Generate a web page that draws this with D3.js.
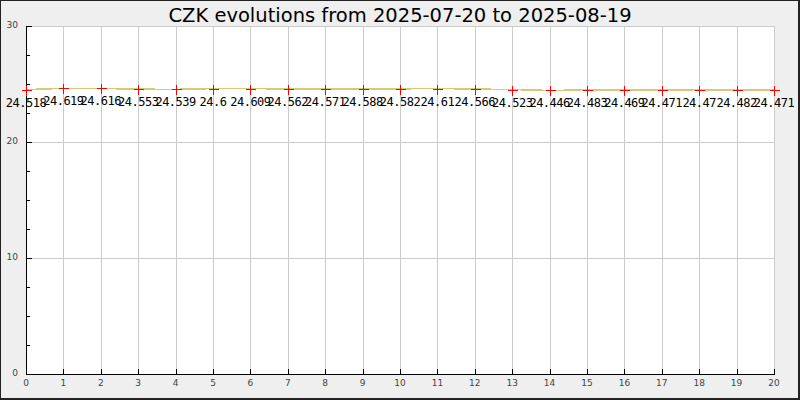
<!DOCTYPE html>
<html><head><meta charset="utf-8">
<script src="https://cdn.jsdelivr.net/npm/d3@7"></script>
<style>html,body{margin:0;padding:0;background:#fff}svg{display:block}</style>
</head><body>
<svg id="c" width="800" height="400"></svg>
<script>
const title = "CZK evolutions from 2025-07-20 to 2025-08-19";
const xIndex = [0,1,2,3,4,5,6,7,8,9,10,11,12,13,14,15,16,17,18,19,20];
const rates = [24.518,24.619,24.616,24.553,24.539,24.6,24.609,24.562,24.571,24.588,24.582,24.61,24.566,24.523,24.446,24.483,24.469,24.471,24.47,24.482,24.471];
const rateLabels = ["24.518","24.619","24.616","24.553","24.539","24.6","24.609","24.562","24.571","24.588","24.582","24.61","24.566","24.523","24.446","24.483","24.469","24.471","24.47","24.482","24.471"];
const yMajorTicks = [0,10,20,30];
const yMinorTicks = [2.5,5,7.5,12.5,15,17.5,22.5,25,27.5];
const xTicks = [0,1,2,3,4,5,6,7,8,9,10,11,12,13,14,15,16,17,18,19,20];

const svg = d3.select("#c");
const W = 800, H = 400;
const L = 26, R = 774, T = 26, B = 374;

svg.append("rect").attr("x",0).attr("y",0).attr("width",W).attr("height",H).attr("fill","#efefef");
svg.append("rect").attr("x",L).attr("y",T).attr("width",R-L).attr("height",B-T).attr("fill","#fff");

const x = d3.scaleLinear().domain([0,20]).range([L,R]);
const y = d3.scaleLinear().domain([0,30]).range([B,T]);

const g = svg.append("g").attr("shape-rendering","crispEdges");
g.selectAll(".vg").data(xTicks.filter(d=>d>0&&d<20)).enter().append("line")
  .attr("x1",d=>Math.round(x(d))+0.5).attr("x2",d=>Math.round(x(d))+0.5)
  .attr("y1",T).attr("y2",B).attr("stroke","#cccccc");
g.selectAll(".hg").data(yMajorTicks.filter(d=>d>0&&d<30)).enter().append("line")
  .attr("x1",L).attr("x2",R).attr("y1",d=>Math.round(y(d))+0.5).attr("y2",d=>Math.round(y(d))+0.5)
  .attr("stroke","#cccccc");
g.append("line").attr("x1",L).attr("x2",R+0.5).attr("y1",T+0.5).attr("y2",T+0.5).attr("stroke","#cccccc");
g.append("line").attr("x1",R+0.5).attr("x2",R+0.5).attr("y1",T).attr("y2",B).attr("stroke","#cccccc");

const line = d3.line().x((d,i)=>x(xIndex[i])).y(d=>y(d));
svg.append("path").datum(rates).attr("d",line).attr("fill","none")
  .attr("stroke","#d8c878").attr("stroke-width",1.5).attr("shape-rendering","crispEdges");

g.append("line").attr("x1",L+0.5).attr("x2",L+0.5).attr("y1",T).attr("y2",B+1).attr("stroke","#000");
g.append("line").attr("x1",L).attr("x2",R+1).attr("y1",B+0.5).attr("y2",B+0.5).attr("stroke","#000");
g.append("line").attr("x1",L).attr("x2",L+6).attr("y1",T+0.5).attr("y2",T+0.5).attr("stroke","#000");
g.selectAll(".ymt").data(yMajorTicks).enter().append("line")
  .attr("x1",L).attr("x2",L+6).attr("y1",d=>Math.round(y(d))+0.5).attr("y2",d=>Math.round(y(d))+0.5).attr("stroke","#000");
g.selectAll(".ymn").data(yMinorTicks).enter().append("line")
  .attr("x1",L).attr("x2",L+4).attr("y1",d=>Math.round(y(d))+0.5).attr("y2",d=>Math.round(y(d))+0.5).attr("stroke","#000");
g.selectAll(".xt").data(xTicks).enter().append("line")
  .attr("x1",d=>Math.round(x(d))+0.5).attr("x2",d=>Math.round(x(d))+0.5)
  .attr("y1",B).attr("y2",B-5).attr("stroke","#000");

svg.selectAll(".yl").data(yMajorTicks).enter().append("text")
  .attr("x",18).attr("y",d=>y(d)+2).attr("text-anchor","end").attr("font-family","DejaVu Sans")
  .attr("font-size",9).attr("fill","#444").text(d=>d);
svg.selectAll(".xl").data(xTicks).enter().append("text")
  .attr("x",d=>x(d)).attr("y",B+12).attr("text-anchor","middle").attr("font-family","DejaVu Sans")
  .attr("font-size",9).attr("fill","#444").text(d=>d);

const mk = svg.append("g").attr("shape-rendering","crispEdges");
rates.forEach((v,i)=>{
  const cx = Math.round(x(xIndex[i]))+0.5, cy = Math.round(y(v))+0.5;
  mk.append("line").attr("x1",cx-5).attr("x2",cx+5).attr("y1",cy).attr("y2",cy).attr("stroke","#ff0000");
  mk.append("line").attr("x1",cx).attr("x2",cx).attr("y1",cy-5).attr("y2",cy+5).attr("stroke","#ff0000");
});
svg.selectAll(".vl").data(rates).enter().append("text")
  .attr("x",(d,i)=>x(xIndex[i])).attr("y",d=>y(d)+17).attr("text-anchor","middle")
  .attr("font-family","DejaVu Sans Mono").attr("font-size",12).attr("letter-spacing","-0.5px").attr("fill","#000")
  .text((d,i)=>rateLabels[i]);

svg.append("text").attr("x",400).attr("y",22).attr("text-anchor","middle")
  .attr("font-family","DejaVu Sans").attr("font-size",19.5).attr("fill","#000").text(title);

const f = svg.append("g").attr("shape-rendering","crispEdges");
f.append("line").attr("x1",0).attr("x2",W).attr("y1",0.5).attr("y2",0.5).attr("stroke","#222");
f.append("line").attr("x1",0.5).attr("x2",0.5).attr("y1",0).attr("y2",H).attr("stroke","#222");
f.append("rect").attr("x",W-2).attr("y",0).attr("width",2).attr("height",H).attr("fill","#222");
f.append("rect").attr("x",0).attr("y",H-2).attr("width",W).attr("height",2).attr("fill","#222");
</script>
</body></html>
